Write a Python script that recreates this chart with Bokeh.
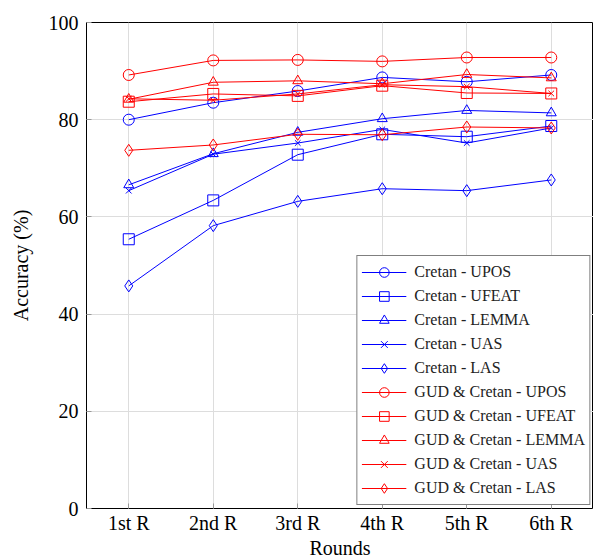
from bokeh.plotting import figure
from bokeh.models import FactorRange, Range1d, Legend, LegendItem, FixedTicker
from bokeh.embed import file_html
from bokeh.resources import INLINE

rounds = ["1st R", "2nd R", "3rd R", "4th R", "5th R", "6th R"]

cretan_upos = [80.0, 83.5, 85.9, 88.7, 87.8, 89.2]
cretan_ufeat = [55.4, 63.4, 72.8, 77.0, 76.5, 78.7]
cretan_lemma = [66.6, 73.0, 77.4, 80.2, 81.9, 81.4]
cretan_uas = [65.4, 72.9, 75.2, 78.0, 75.2, 78.3]
cretan_las = [45.8, 58.2, 63.2, 65.8, 65.4, 67.6]
gud_upos = [89.2, 92.2, 92.3, 92.0, 92.8, 92.8]
gud_ufeat = [83.7, 85.3, 84.9, 87.0, 85.5, 85.4]
gud_lemma = [84.2, 87.7, 88.0, 87.4, 89.3, 88.6]
gud_uas = [84.3, 84.0, 85.3, 87.2, 86.8, 85.4]
gud_las = [73.7, 74.8, 77.0, 76.9, 78.5, 78.3]
y_ticks = [0, 20, 40, 60, 80, 100]

series = [
    ("Cretan - UPOS", cretan_upos, "#0000ff", "circle", 11),
    ("Cretan - UFEAT", cretan_ufeat, "#0000ff", "square", 11),
    ("Cretan - LEMMA", cretan_lemma, "#0000ff", "triangle", 10),
    ("Cretan - UAS", cretan_uas, "#0000ff", "x", 8),
    ("Cretan - LAS", cretan_las, "#0000ff", "diamond", 12),
    ("GUD & Cretan - UPOS", gud_upos, "#ff0000", "circle", 11),
    ("GUD & Cretan - UFEAT", gud_ufeat, "#ff0000", "square", 11),
    ("GUD & Cretan - LEMMA", gud_lemma, "#ff0000", "triangle", 10),
    ("GUD & Cretan - UAS", gud_uas, "#ff0000", "x", 8),
    ("GUD & Cretan - LAS", gud_las, "#ff0000", "diamond", 12),
]

FONT = "Liberation Serif"

p = figure(frame_width=507, frame_height=486, x_range=FactorRange(*rounds), y_range=Range1d(0, 100),
           output_backend="svg", toolbar_location=None,
           min_border_left=86, min_border_right=0, min_border_top=22, min_border_bottom=0)

p.outline_line_color = "black"
p.outline_line_width = 1
p.xgrid.grid_line_color = "#dddddd"
p.ygrid.grid_line_color = "#dddddd"
p.ygrid.ticker = FixedTicker(ticks=y_ticks)

items = []
for name, vals, color, marker, size in series:
    r1 = p.line(rounds, vals, line_color=color, line_width=1)
    r2 = p.scatter(rounds, vals, marker=marker, size=size, line_color=color,
                   fill_color=None, line_width=1)
    items.append(LegendItem(label=name, renderers=[r1, r2]))

p.yaxis.ticker = FixedTicker(ticks=y_ticks)
for ax in (p.xaxis[0], p.yaxis[0]):
    ax.axis_line_color = None
    ax.major_tick_in = 5
    ax.major_tick_out = 0
    ax.minor_tick_line_color = None
    ax.major_tick_line_color = "#999999"
    ax.major_label_text_font = FONT
    ax.major_label_text_font_size = "20px"
    ax.major_label_text_color = "black"
    ax.axis_label_text_font = FONT
    ax.axis_label_text_font_size = "20px"
    ax.axis_label_text_font_style = "normal"
    ax.axis_label_text_color = "black"
p.xaxis.axis_label = "Rounds"
p.yaxis.axis_label = "Accuracy (%)"
p.xaxis.major_label_standoff = 3
p.xaxis.axis_label_standoff = 0
p.yaxis.major_label_standoff = 8
p.yaxis.axis_label_standoff = 14

legend = Legend(items=items, location="bottom_right", border_line_color="black",
                border_line_width=1, label_text_font=FONT,
                label_text_font_size="16px", label_text_font_style="normal",
                label_text_color="#222222", glyph_width=45, glyph_height=24,
                label_standoff=8, spacing=0, padding=4, margin=3,
                label_height=24, background_fill_alpha=1.0)
p.add_layout(legend)

open("out.html", "w").write(file_html(p, INLINE))
